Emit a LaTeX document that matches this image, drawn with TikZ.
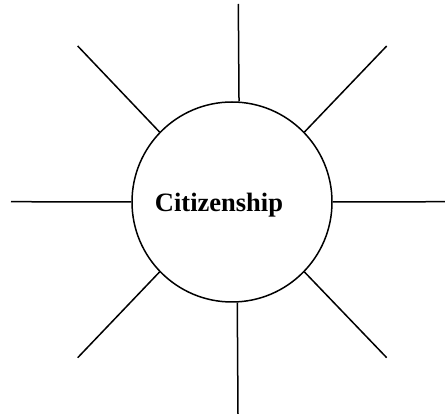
\documentclass[tikz,border=0pt]{standalone}
\usepackage{fontspec}
\setmainfont{Liberation Serif}
\usepackage{tikz}
\tikzset{
    ray/.style={line width=1.5pt},
    hub/.style={draw, circle, line width=1.5pt, minimum size=200pt, inner sep=0pt}
}

\begin{document}
\begin{tikzpicture}[x=1pt, y=-1pt]
    \useasboundingbox (0,0) rectangle (445,414);

    % Centre circle
    \node[hub] (hub) at (232,202) {};
    \node[anchor=base, font=\fontsize{26.5}{30}\selectfont\bfseries] (title) at (219,211.5) {Citizenship};

    % Free ends of the rays
    \coordinate (n)  at (238.3,4);
    \coordinate (s)  at (238,414);
    \coordinate (w)  at (11,201.7);
    \coordinate (e)  at (445,201.7);
    \coordinate (nw) at (77.7,46);
    \coordinate (ne) at (386.7,46);
    \coordinate (sw) at (77.7,357.7);
    \coordinate (se) at (386.7,357.7);

    % Rays
    \draw[ray] (hub.86.4) -- (n);
    \draw[ray] (hub.273.5) -- (s);
    \draw[ray] (hub.180) -- (w);
    \draw[ray] (hub.0) -- (e);
    \draw[ray] (hub.136) -- (nw);
    \draw[ray] (hub.44) -- (ne);
    \draw[ray] (hub.224) -- (sw);
    \draw[ray] (hub.316) -- (se);

\end{tikzpicture}
\end{document}
